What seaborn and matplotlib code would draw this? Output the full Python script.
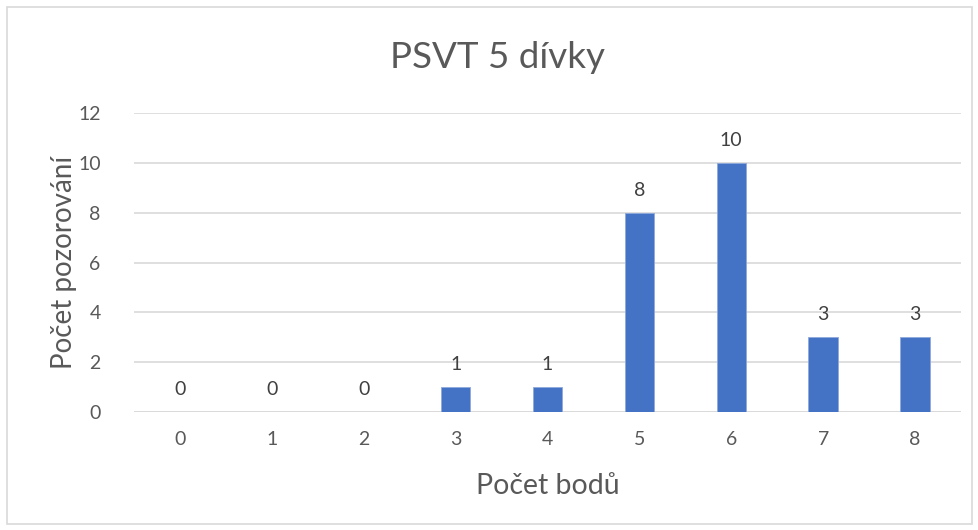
import matplotlib
matplotlib.use("Agg")
import matplotlib.pyplot as plt
import seaborn as sns
import pandas as pd
from matplotlib.patches import Rectangle

# data
body = ["0", "1", "2", "3", "4", "5", "6", "7", "8"]
pozorovani = [0, 0, 0, 1, 1, 8, 10, 3, 3]
y_ticks = [0, 2, 4, 6, 8, 10, 12]

df = pd.DataFrame({"body": body, "pocet": pozorovani})

sns.set_style("white")
plt.rcParams["font.family"] = ["Lato", "DejaVu Sans"]
text_color = "#595959"

fig = plt.figure(figsize=(9.79, 5.30), dpi=100)
ax = fig.add_axes([134 / 979, 1 - 412 / 530, 827 / 979, 299 / 530])

sns.barplot(data=df, x="body", y="pocet", color="#4472C4", width=0.32,
            saturation=1, ax=ax, zorder=3, edgecolor="#8fa9dc", linewidth=0.6)

ax.set_ylim(0, 12)
ax.set_xlim(-0.5, 8.5)
ax.set_yticks(y_ticks)
ax.grid(axis="y", color="#d9d9d9", linewidth=1.2, zorder=0)
ax.grid(axis="x", visible=False)
for s in ax.spines.values():
    s.set_visible(False)
ax.axhline(0, color="#d9d9d9", linewidth=1.2, zorder=2)
ax.tick_params(axis="both", length=0, labelsize=14, colors=text_color)
ax.tick_params(axis="x", pad=14)
ax.tick_params(axis="y", pad=24)

ax.bar_label(ax.containers[0], labels=[str(v) for v in pozorovani],
             padding=10, fontsize=14, color="#404040")

ax.set_xlabel("Počet bodů", fontsize=20.5, color=text_color, labelpad=18)
ax.set_ylabel("Počet pozorování", fontsize=20, color=text_color, labelpad=1)
fig.text(498 / 979, 1 - 57 / 530, "PSVT 5 dívky", ha="center", va="center",
         fontsize=26.5, color=text_color)

fig.patches.append(Rectangle((7 / 979, 6 / 530), 965 / 979, 517 / 530,
                             transform=fig.transFigure, fill=False,
                             edgecolor="#d9d9d9", linewidth=1.2))

fig.savefig("out.png", dpi=100)
